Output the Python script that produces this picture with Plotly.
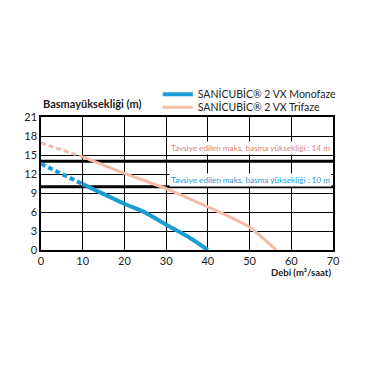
import plotly.graph_objects as go

# data
mono_x = [0, 10, 20, 25, 30, 35, 40]
mono_y = [13.6, 10.4, 7.3, 5.9, 4.0, 2.2, 0]
tri_x = [0, 10, 20, 30, 40, 45, 50, 53, 56.4]
tri_y = [16.9, 14.7, 12.1, 9.7, 6.8, 5.3, 3.6, 2.0, 0]
dash_end = 10
mono_name = "SANİCUBİC® 2 VX Monofaze"
tri_name = "SANİCUBİC® 2 VX Trifaze"
limit_mono = 10
limit_tri = 14
label_tri = "Tavsiye edilen maks. basma yüksekliği : 14 m"
label_mono = "Tavsiye edilen maks. basma yüksekliği : 10 m"

BLUE = "#1b9dd3"
PINK = "#f2bca9"
FONT = "Lato"

def split(xs, ys, cut):
    dx = [x for x in xs if x <= cut]
    dy = ys[:len(dx)]
    sx = xs[len(dx) - 1:]
    sy = ys[len(dx) - 1:]
    return dx, dy, sx, sy

fig = go.Figure()
for xs, ys, col, name, w, lg in [(mono_x, mono_y, BLUE, mono_name, 4, "legend"),
                                  (tri_x, tri_y, PINK, tri_name, 3, "legend2")]:
    dx, dy, sx, sy = split(xs, ys, dash_end)
    fig.add_trace(go.Scatter(x=sx, y=sy, mode="lines", name=name, legend=lg,
                             line=dict(color=col, width=w, shape="spline", smoothing=0.5)))
    fig.add_trace(go.Scatter(x=dx, y=dy, mode="lines", showlegend=False,
                             line=dict(color=col, width=w, dash="5px,3px")))

for lv in [limit_tri, limit_mono]:
    fig.add_shape(type="line", x0=0, x1=70, y0=lv, y1=lv, xref="x", yref="y",
                  line=dict(color="black", width=3), layer="below")

fig.add_annotation(x=70, y=16.05, xref="x", yref="y", text=label_tri, showarrow=False,
                   xanchor="right", yanchor="middle", font=dict(family=FONT, size=8.2, color="#d98470"),
                   bgcolor="white", borderpad=1, xshift=-1)
fig.add_annotation(x=70, y=11.0, xref="x", yref="y", text=label_mono, showarrow=False,
                   xanchor="right", yanchor="middle", font=dict(family=FONT, size=8.2, color="#1b9dd3"),
                   bgcolor="white", borderpad=1, xshift=-1)

fig.add_annotation(x=0, y=1.10, xref="paper", yref="paper", text="<b>Basmayüksekliği (m)</b>",
                   showarrow=False, xanchor="left", yanchor="middle",
                   font=dict(family=FONT, size=11, color="#222"))
fig.add_annotation(x=1.0, y=-0.17, xref="paper", yref="paper", text="<b>Debi (m³/saat)</b>",
                   showarrow=False, xanchor="right", yanchor="middle",
                   font=dict(family=FONT, size=9.5, color="#222"))

fig.update_xaxes(range=[0, 70], dtick=10, showgrid=True, gridcolor="black", gridwidth=1.3,
                 showline=True, linecolor="black", linewidth=1.5, mirror=True, zeroline=False,
                 ticks="", tickfont=dict(family=FONT, size=11, color="#222"))
fig.update_yaxes(range=[0, 21], dtick=3, showgrid=True, gridcolor="black", gridwidth=1.3,
                 showline=True, linecolor="black", linewidth=1.5, mirror=True, zeroline=False,
                 ticks="", tickfont=dict(family=FONT, size=11, color="#222"))

leg_common = dict(xanchor="left", yanchor="top", font=dict(family=FONT, size=10.5, color="#222"),
                  bgcolor="rgba(0,0,0,0)", itemwidth=30)
fig.update_layout(width=370, height=370, margin=dict(l=41, r=37, t=117, b=120),
                  plot_bgcolor="white", paper_bgcolor="white",
                  font=dict(family=FONT, color="#222"),
                  legend=dict(x=0.40, y=1.28, **leg_common),
                  legend2=dict(x=0.40, y=1.183, **leg_common))
fig.write_html("out.html", config={"displayModeBar": False},
               post_script="document.body.style.margin='0';")
